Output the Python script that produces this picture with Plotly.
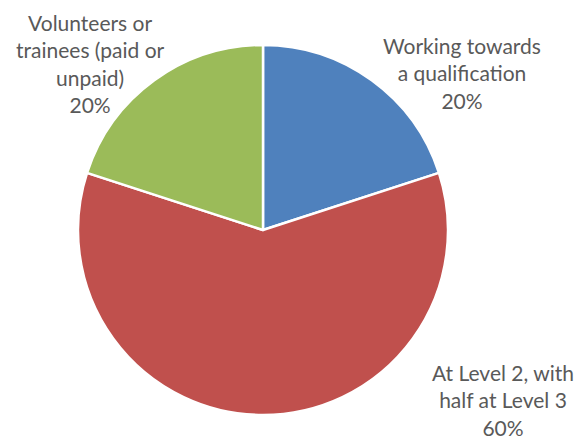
import plotly.graph_objects as go

labels = ["Working towards<br>a qualification", "At Level 2, with<br>half at Level 3", "Volunteers or<br>trainees (paid or<br>unpaid)"]
values = [20, 60, 20]
colors = ["#4F81BD", "#C0504D", "#9BBB59"]

W, H = 586, 439
OFF = 8  # page body margin offset
# label centres in pixels (style)
label_pos = [(462, 73), (503, 400), (90, 64)]

fig = go.Figure(go.Pie(
    labels=labels, values=values, sort=False, direction="clockwise", rotation=0,
    marker=dict(colors=colors, line=dict(color="white", width=2.5)),
    textinfo="none", hoverinfo="label+percent",
    domain=dict(x=[(78 - OFF) / W, (448 - OFF) / W],
                y=[(H - 415 + OFF) / H, (H - 45 + OFF) / H]),
    showlegend=False,
))

total = sum(values)
for lab, v, (px, py) in zip(labels, values, label_pos):
    fig.add_annotation(
        x=(px - OFF) / W, y=1 - (py - OFF) / H, xref="paper", yref="paper",
        text=f"{lab}<br>{round(100 * v / total)}%", showarrow=False,
        xanchor="center", yanchor="middle", align="center",
        font=dict(family="Lato, Open Sans, sans-serif", size=21, color="#595959"),
    )

fig.update_layout(
    width=W, height=H, margin=dict(l=0, r=0, t=0, b=0),
    paper_bgcolor="white", plot_bgcolor="white",
)
fig.write_html("out.html")
